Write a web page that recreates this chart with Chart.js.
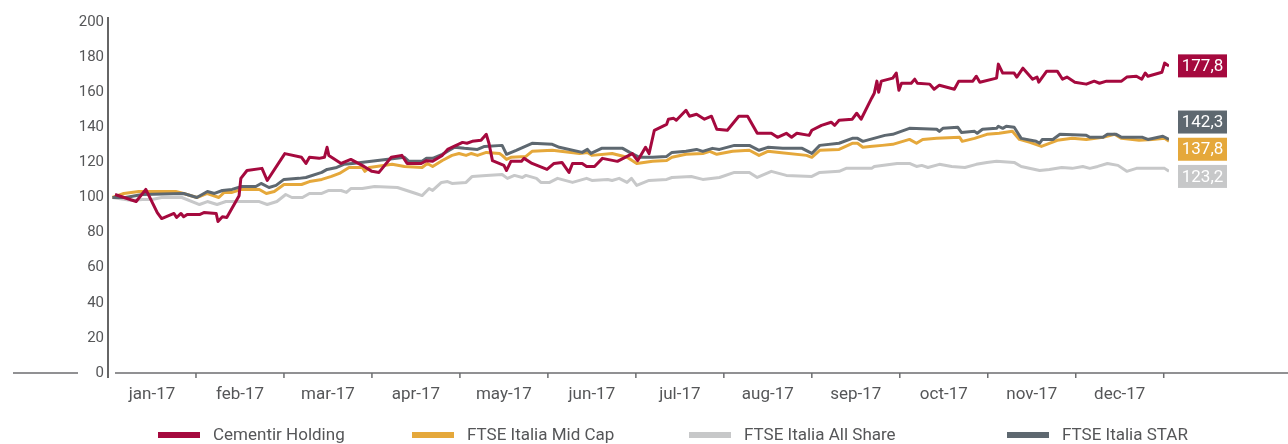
<!DOCTYPE html>
<html>
<head>
<meta charset="utf-8">
<script src="https://cdn.jsdelivr.net/npm/chart.js@4/dist/chart.umd.min.js"></script>
<style>
  html, body { margin: 0; padding: 0; background: #fff; }
  #wrap { width: 1288px; height: 444px; }
</style>
</head>
<body>
<div id="wrap"><canvas id="chart"></canvas></div>
<script>
// x values are in months from 1 Jan 2017 (0 = start of jan, 12 = end of dec)
const months = ["jan-17", "feb-17", "mar-17", "apr-17", "may-17", "jun-17",
                "jul-17", "aug-17", "sep-17", "oct-17", "nov-17", "dec-17"];
const yTicks = [0, 20, 40, 60, 80, 100, 120, 140, 160, 180, 200];

const seriesNames = ["Cementir Holding", "FTSE Italia Mid Cap", "FTSE Italia All Share", "FTSE Italia STAR"];
const seriesColors = ["#a5093e", "#e5a83b", "#c7c8c9", "#5e6870"];
const endLabels = ["177,8", "137,8", "123,2", "142,3"];
const endLabelAt = [175, 127.5, 112, 143];

const cementirX = [0.08, 0.32, 0.43, 0.56, 0.61, 0.75, 0.78, 0.83, 0.86, 0.90, 1.04, 1.09, 1.23, 1.25, 1.30, 1.35,
  1.49, 1.51, 1.58, 1.75, 1.81, 2.01, 2.20, 2.25, 2.29, 2.40, 2.46, 2.49, 2.51, 2.65, 2.76, 2.91, 3.00, 3.08,
  3.22, 3.34, 3.40, 3.56, 3.62, 3.69, 3.80, 3.86, 4.03, 4.08, 4.14, 4.24, 4.30, 4.33, 4.37, 4.50, 4.53, 4.58,
  4.70, 4.73, 4.82, 4.99, 5.07, 5.16, 5.24, 5.28, 5.39, 5.44, 5.53, 5.62, 5.79, 5.96, 6.02, 6.11, 6.15, 6.21,
  6.35, 6.37, 6.43, 6.46, 6.57, 6.61, 6.69, 6.78, 6.86, 6.92, 7.04, 7.17, 7.27, 7.38, 7.54, 7.61, 7.71, 7.77,
  7.83, 7.97, 8.00, 8.11, 8.22, 8.26, 8.31, 8.46, 8.51, 8.56, 8.68, 8.71, 8.74, 8.76, 8.79, 8.92, 8.96, 8.99,
  9.02, 9.13, 9.17, 9.20, 9.34, 9.39, 9.45, 9.62, 9.67, 9.83, 9.87, 9.91, 10.10, 10.12, 10.17, 10.30, 10.33,
  10.40, 10.51, 10.56, 10.58, 10.67, 10.79, 10.85, 10.90, 10.99, 11.12, 11.21, 11.27, 11.35, 11.52, 11.58,
  11.69, 11.75, 11.79, 11.82, 11.98, 12.01, 12.06];
const cementirY = [101.7, 97.7, 104.6, 91.4, 88, 90.9, 88.6, 90.9, 89, 90.3, 90.3, 91.4, 90.9, 86.3, 89, 88.6,
  101, 110.9, 115.4, 116.6, 109.7, 125, 122.9, 119.4, 122.9, 122.3, 122.9, 128.6, 124, 119.4, 121.7, 117.7, 114.9, 114.3,
  122.9, 124, 119.4, 119.4, 121, 120.6, 124, 127.4, 131.4, 130.9, 132, 132.6, 136, 130.9, 121, 118.3, 115.4, 120.6,
  120.6, 122.3, 119.4, 116, 119.4, 120, 114.3, 119.4, 119.4, 117.7, 117.7, 122.3, 120.6, 125, 121, 128.6, 125, 138.3,
  141.7, 144.6, 145.1, 144, 149.7, 146.3, 147.4, 144.6, 146.3, 138.9, 138.3, 146.3, 146.3, 136.6, 136.6, 134.3, 136.6, 134.3,
  136.6, 135.4, 138.3, 141.1, 142.9, 141.1, 144, 144.6, 148, 144.6, 156.6, 159.4, 166.3, 160, 166.3, 168, 170.9, 161.1,
  165.1, 165.1, 167.4, 165.1, 164.6, 161.7, 164, 161.7, 166.3, 166.3, 169.1, 165.7, 168, 176, 170.9, 170.9, 168.6,
  173.7, 167.4, 168.6, 165.7, 172, 172, 167.4, 168.6, 165.7, 164.6, 166.3, 165.1, 166.3, 166.3, 168.6,
  169.1, 167.4, 170.9, 169.1, 171.4, 176.6, 174.9];

const midCapX = [0.05, 0.18, 0.35, 0.77, 0.86, 1.01, 1.13, 1.26, 1.32, 1.41, 1.52, 1.72, 1.80, 1.89, 2.00, 2.20,
  2.29, 2.43, 2.54, 2.63, 2.74, 2.89, 2.92, 2.97, 3.23, 3.37, 3.57, 3.63, 3.69, 3.80, 3.91, 3.99, 4.07, 4.13,
  4.20, 4.30, 4.45, 4.48, 4.53, 4.58, 4.75, 4.82, 5.05, 5.36, 5.45, 5.50, 5.73, 5.90, 6.01, 6.19, 6.35, 6.41,
  6.57, 6.76, 6.84, 6.92, 7.10, 7.29, 7.40, 7.50, 7.63, 7.94, 8.00, 8.09, 8.31, 8.46, 8.52, 8.58, 8.66, 8.80,
  8.92, 9.11, 9.19, 9.26, 9.42, 9.68, 9.71, 9.85, 9.99, 10.13, 10.28, 10.36, 10.48, 10.61, 10.79, 10.96,
  11.12, 11.31, 11.44, 11.52, 11.72, 11.87, 12.01, 12.06];
const midCapY = [100, 102.3, 103.4, 103.4, 102.3, 100, 102.3, 100, 102.9, 102.9, 104.6, 104.6, 102.3, 103.4, 107.4, 107.4,
  109.1, 110.3, 112, 113.7, 117.1, 117.1, 114.9, 117.1, 118.9, 117.7, 117.1, 119.4, 117.7, 121.1, 124, 125.1, 124, 125.1,
  124, 125.7, 125.1, 124, 121.7, 122.9, 123.4, 126.3, 126.9, 125.1, 125.7, 124, 125.1, 122.9, 119.4, 120.6, 121.1, 122.9,
  124.6, 125.1, 126.3, 124.6, 126.3, 126.9, 124, 126.3, 125.7, 124, 122.9, 126.9, 127.4, 130.9, 130.9, 128.6, 129.1, 129.7,
  130.3, 133.1, 130.9, 133.1, 133.7, 134.3, 132, 133.7, 136, 136.6, 137.7, 133.1, 131.4, 129.1, 132.6, 133.7,
  133.1, 134.3, 136, 133.7, 132.6, 133.1, 133.7, 132];

const allShareX = [0.05, 0.27, 0.39, 0.50, 0.61, 0.84, 1.04, 1.13, 1.24, 1.34, 1.72, 1.81, 1.92, 2.02, 2.09, 2.21,
  2.29, 2.43, 2.51, 2.65, 2.71, 2.76, 2.89, 3.03, 3.29, 3.50, 3.57, 3.65, 3.69, 3.79, 3.86, 3.91, 4.07, 4.14,
  4.30, 4.48, 4.54, 4.62, 4.71, 4.75, 4.87, 4.92, 5.02, 5.11, 5.28, 5.44, 5.50, 5.68, 5.73, 5.81, 5.90, 5.95,
  6.01, 6.15, 6.35, 6.41, 6.63, 6.76, 6.95, 7.12, 7.29, 7.38, 7.54, 7.71, 8.00, 8.09, 8.31, 8.39, 8.68, 8.71,
  8.97, 9.11, 9.19, 9.25, 9.32, 9.45, 9.59, 9.74, 9.87, 9.99, 10.10, 10.30, 10.38, 10.59, 10.70, 10.84, 10.96,
  11.08, 11.16, 11.25, 11.36, 11.48, 11.58, 11.69, 11.87, 12.01, 12.06];
const allShareY = [100, 98.3, 98.9, 98.9, 100, 100, 96, 97.7, 96, 97.7, 97.7, 96, 97.7, 101.7, 100, 100,
  102.3, 102.3, 104, 104, 102.9, 105.1, 105.1, 106.3, 105.7, 102.3, 101.1, 105.1, 104, 108.6, 109.1, 108, 108.6, 112,
  112.6, 113.1, 110.9, 112.6, 111.4, 112.6, 110.9, 108.6, 108.6, 110.9, 108.6, 110.9, 109.7, 110.3, 109.7, 110.9, 108.6, 110.9,
  106.9, 109.7, 110.3, 111.4, 112, 110.3, 111.4, 114.3, 114.3, 111.4, 114.9, 112.6, 112, 114.3, 114.9, 116.6, 116.6, 117.7,
  119.4, 119.4, 117.7, 118.3, 117.1, 118.9, 117.7, 117.1, 118.9, 120, 120.6, 120, 117.7, 115.4, 116, 117.1, 116.6,
  117.7, 116.6, 117.7, 119.4, 118.3, 114.9, 116.6, 116.6, 116.6, 114.9];

const starX = [0.05, 0.20, 0.39, 0.86, 1.01, 1.13, 1.21, 1.30, 1.41, 1.52, 1.68, 1.74, 1.83, 1.91, 2.00, 2.17,
  2.25, 2.43, 2.49, 2.60, 2.68, 2.78, 3.16, 3.28, 3.37, 3.42, 3.57, 3.62, 3.69, 3.80, 3.88, 3.94, 4.05, 4.20,
  4.28, 4.48, 4.53, 4.64, 4.82, 5.05, 5.13, 5.39, 5.45, 5.49, 5.61, 5.85, 5.93, 6.04, 6.19, 6.35, 6.41, 6.57,
  6.69, 6.76, 6.87, 6.95, 7.12, 7.29, 7.40, 7.50, 7.67, 7.89, 8.00, 8.09, 8.31, 8.46, 8.52, 8.58, 8.83, 8.92,
  9.11, 9.42, 9.45, 9.49, 9.66, 9.70, 9.85, 9.88, 9.94, 10.10, 10.12, 10.17, 10.21, 10.30, 10.38, 10.55, 10.59,
  10.62, 10.74, 10.82, 11.12, 11.16, 11.31, 11.36, 11.46, 11.52, 11.76, 11.82, 11.99, 12.06];
const starY = [100, 100, 101.7, 102.3, 100, 103.4, 102.3, 104, 104.6, 106.3, 106.3, 108, 105.7, 106.9, 110.3, 110.9,
  111.4, 114.3, 116, 117.1, 118.9, 119.4, 121.7, 122.3, 122.9, 120.6, 120.6, 122.3, 122.3, 124.6, 126.9, 128.6, 128, 127.4,
  129.1, 129.7, 124.6, 126.9, 130.9, 130.3, 128.6, 125.7, 127.4, 125.1, 128, 128, 125.7, 122.9, 122.9, 123.4, 125.7, 126.3,
  127.4, 126.3, 128, 127.4, 129.7, 129.7, 126.9, 128.6, 128, 128, 125.1, 129.7, 130.9, 133.7, 133.7, 132, 135.4, 136,
  139.4, 138.9, 137.7, 139.4, 140, 137.1, 137.7, 136.6, 138.9, 139.4, 140.6, 139.4, 140.6, 140, 133.7, 132, 130.9,
  133.1, 133.1, 136, 135.4, 134.3, 134.3, 136, 136, 134.3, 134.3, 133.1, 134.9, 133.1];

function pts(xs, ys) {
  return xs.map((x, i) => ({ x: x, y: ys[i] }));
}

const FONT = "Roboto, 'DejaVu Sans', sans-serif";
const TEXT = "#555658";

const extras = {
  id: "extras",
  afterDraw(chart) {
    const ctx = chart.ctx;
    const area = chart.chartArea;
    const xs = chart.scales.x;
    const ys = chart.scales.y;
    const W = chart.width;

    ctx.save();
    // axis lines
    ctx.strokeStyle = "#333";
    ctx.lineWidth = 1.5;
    ctx.beginPath();
    ctx.moveTo(area.left, area.top - 5);
    ctx.lineTo(area.left, area.bottom + 5);
    ctx.stroke();

    ctx.strokeStyle = "#6d6e70";
    ctx.beginPath();
    ctx.moveTo(area.left + 7, area.bottom);
    ctx.lineTo(W, area.bottom);
    ctx.moveTo(13, area.bottom);
    ctx.lineTo(78, area.bottom);
    // month boundary tick marks
    for (let m = 1; m <= months.length; m++) {
      const px = xs.getPixelForValue(m);
      ctx.moveTo(px, area.bottom);
      ctx.lineTo(px, area.bottom + 5);
    }
    ctx.stroke();

    // end value boxes
    ctx.font = "17px " + FONT;
    ctx.textAlign = "center";
    ctx.textBaseline = "middle";
    endLabels.forEach((txt, i) => {
      const cy = ys.getPixelForValue(endLabelAt[i]);
      ctx.fillStyle = seriesColors[i];
      ctx.fillRect(1178, cy - 11.5, 49, 23);
      ctx.fillStyle = "#fff";
      ctx.fillText(txt, 1178 + 24.5, cy + 1);
    });

    // legend
    const legendX = [158, 412, 689, 1007];
    ctx.font = "17px " + FONT;
    ctx.textAlign = "left";
    seriesNames.forEach((name, i) => {
      ctx.fillStyle = seriesColors[i];
      ctx.fillRect(legendX[i], 432, 42, 6);
      ctx.fillStyle = TEXT;
      ctx.fillText(name, legendX[i] + 55, 436);
    });
    ctx.restore();
  }
};

const data = {
  datasets: [
    { label: seriesNames[0], data: pts(cementirX, cementirY), borderColor: seriesColors[0], order: 0 },
    { label: seriesNames[1], data: pts(midCapX, midCapY), borderColor: seriesColors[1], order: 2 },
    { label: seriesNames[2], data: pts(allShareX, allShareY), borderColor: seriesColors[2], order: 3 },
    { label: seriesNames[3], data: pts(starX, starY), borderColor: seriesColors[3], order: 1 }
  ].map(d => Object.assign(d, { borderWidth: 3, pointRadius: 0, tension: 0, fill: false, borderJoinStyle: "round" }))
};

new Chart(document.getElementById("chart"), {
  type: "line",
  data: data,
  options: {
    responsive: true,
    maintainAspectRatio: false,
    animation: false,
    layout: { padding: { top: 22, right: 119, bottom: 0, left: 0 } },
    plugins: { legend: { display: false }, tooltip: { enabled: false } },
    scales: {
      x: {
        type: "linear",
        min: 0,
        max: 12.06,
        afterBuildTicks: axis => {
          axis.ticks = months.map((m, i) => ({ value: i + 0.5 }));
        },
        afterFit: axis => { axis.height = 71; },
        grid: { display: false, drawTicks: false },
        border: { display: false },
        ticks: {
          autoSkip: false,
          maxRotation: 0,
          padding: 12,
          color: TEXT,
          font: { family: FONT, size: 17 },
          callback: (v) => months[Math.floor(v)]
        }
      },
      y: {
        min: 0,
        max: 200,
        afterBuildTicks: axis => {
          axis.ticks = yTicks.map(v => ({ value: v }));
        },
        afterFit: axis => { axis.width = 108; },
        grid: { display: false, drawTicks: false },
        border: { display: false },
        ticks: {
          padding: 4,
          color: TEXT,
          font: { family: FONT, size: 15 }
        }
      }
    }
  },
  plugins: [extras]
});
</script>
</body>
</html>
